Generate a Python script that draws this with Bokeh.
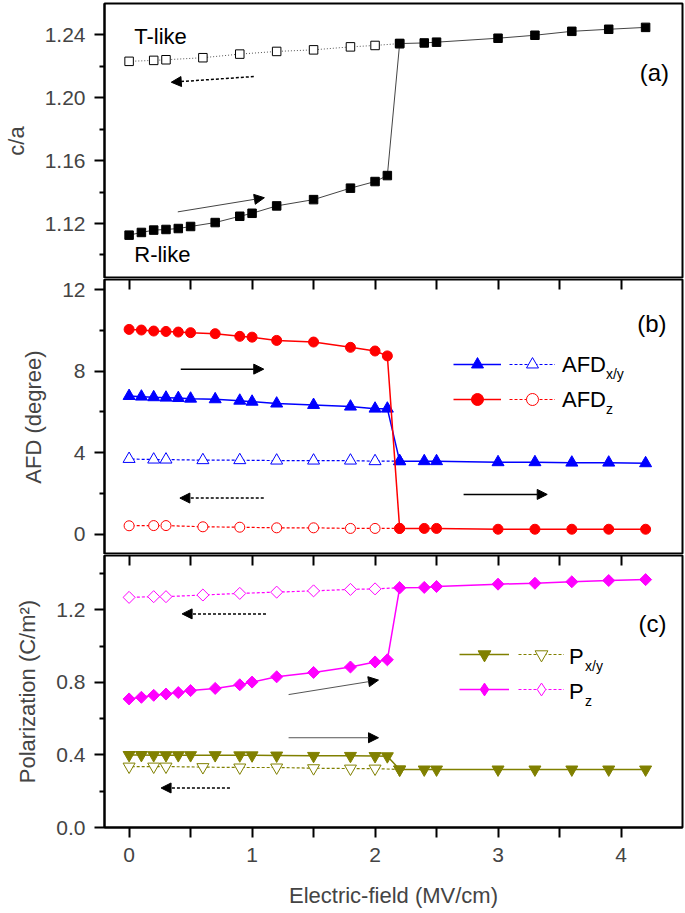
from bokeh.plotting import figure
from bokeh.models import (Range1d, FixedTicker, PrintfTickFormatter, LinearAxis, Label,
                          Arrow, NormalHead, Legend, LegendItem, CustomJSTickFormatter)
from bokeh.layouts import column
from bokeh.embed import file_html
from bokeh.resources import INLINE

# ---------------- data ----------------
E_fwd = [0.0, 0.1, 0.2, 0.3, 0.4, 0.5, 0.7, 0.9, 1.0, 1.2, 1.5, 1.8, 2.0, 2.1,
         2.2, 2.4, 2.5, 3.0, 3.3, 3.6, 3.9, 4.2]
E_bwd = [2.2, 2.0, 1.8, 1.5, 1.2, 0.9, 0.6, 0.3, 0.2, 0.0]

ca_fwd = [1.1126, 1.1143, 1.1158, 1.1162, 1.1168, 1.1181, 1.1206, 1.1246, 1.1265, 1.1312,
          1.1352, 1.1425, 1.1467, 1.1505, 1.2345, 1.2349, 1.2354, 1.2379, 1.2398, 1.2423,
          1.2436, 1.2448]
ca_bwd = [1.2345, 1.2333, 1.2324, 1.2305, 1.2295, 1.2278, 1.2255, 1.2242, 1.2238, 1.2232]

afd_xy_fwd = [6.78, 6.75, 6.72, 6.70, 6.68, 6.65, 6.62, 6.55, 6.50, 6.41, 6.34, 6.26, 6.16,
              6.16, 3.58, 3.58, 3.58, 3.53, 3.53, 3.51, 3.51, 3.48]
afd_z_fwd = [10.05, 10.02, 9.97, 9.95, 9.92, 9.89, 9.84, 9.71, 9.67, 9.51, 9.43, 9.17, 8.99,
             8.75, 0.28, 0.28, 0.28, 0.24, 0.24, 0.24, 0.24, 0.24]
afd_xy_bwd = [3.58, 3.58, 3.61, 3.61, 3.61, 3.63, 3.63, 3.66, 3.66, 3.69]
afd_z_bwd = [0.28, 0.28, 0.28, 0.31, 0.31, 0.34, 0.36, 0.42, 0.42, 0.41]

pz_fwd = [0.709, 0.718, 0.729, 0.736, 0.744, 0.755, 0.767, 0.787, 0.802, 0.831, 0.855, 0.885,
          0.913, 0.925, 1.322, 1.324, 1.329, 1.342, 1.347, 1.355, 1.362, 1.367]
pz_bwd = [1.322, 1.316, 1.313, 1.305, 1.298, 1.291, 1.282, 1.273, 1.273, 1.269]
pxy_fwd = [0.400, 0.400, 0.399, 0.399, 0.399, 0.399, 0.399, 0.398, 0.398, 0.397, 0.395, 0.395,
           0.394, 0.393, 0.320, 0.320, 0.320, 0.320, 0.320, 0.320, 0.320, 0.320]
pxy_bwd = [0.320, 0.325, 0.325, 0.327, 0.331, 0.331, 0.333, 0.336, 0.336, 0.336]

E_ticks = [0, 1, 2, 3, 4]
E_minor = [0.5, 1.5, 2.5, 3.5]
ca_ticks = [1.12, 1.16, 1.20, 1.24]
ca_minor = [1.10, 1.14, 1.18, 1.22]
afd_ticks = [0, 4, 8, 12]
afd_minor = [2, 6, 10]
p_ticks = [0.0, 0.4, 0.8, 1.2]
p_minor = [0.2, 0.6, 1.0, 1.4]

# ---------------- layout constants ----------------
FONT = "Liberation Sans"
WIDTH = 685
LEFT = 101
RIGHT = 3
FW = WIDTH - LEFT - RIGHT
FH = 275
BOTTOM = 80
XR = (-0.2, 4.5)
YR_A = (1.085, 1.26)
YR_B = (-1.0, 12.5)
YR_C = (0.0, 1.5)

BLUE = "#0000ff"
RED = "#ff0000"
MAG = "#ff00ff"
OLIVE = "#808000"
NAN = float("nan")


def to_sx(x):
    return (x - XR[0]) / (XR[1] - XR[0]) * FW


def to_sy(y, yr):
    return (y - yr[0]) / (yr[1] - yr[0]) * FH


def make_panel(yr, height, top, bottom, with_x_below):
    p = figure(width=WIDTH, height=height, x_range=Range1d(*XR), y_range=Range1d(*yr),
               output_backend="svg", toolbar_location=None, title=None,
               min_border_left=LEFT, min_border_right=RIGHT,
               min_border_top=top, min_border_bottom=bottom,
               x_axis_location="below" if with_x_below else None)
    p.grid.visible = False
    p.outline_line_color = "black"
    p.outline_line_width = 2
    p.background_fill_color = "white"
    p.border_fill_color = "white"
    return p


def style_y(p, label, ticks, minors, fmt):
    ax = p.yaxis[0]
    ax.ticker = FixedTicker(ticks=ticks, minor_ticks=minors)
    ax.formatter = PrintfTickFormatter(format=fmt)
    ax.axis_label = label
    ax.axis_label_text_font = FONT
    ax.axis_label_text_font_size = "22px"
    ax.axis_label_text_font_style = "normal"
    ax.axis_label_standoff = 13
    ax.major_label_text_font = FONT
    ax.major_label_text_font_size = "21px"
    ax.major_label_standoff = 9
    ax.major_tick_out = 10
    ax.major_tick_in = 0
    ax.minor_tick_out = 5
    ax.minor_tick_in = 0
    ax.axis_line_width = 2
    ax.major_tick_line_width = 2
    ax.minor_tick_line_width = 2


def add_top_ticks(p):
    ax = LinearAxis(ticker=FixedTicker(ticks=E_ticks, minor_ticks=E_minor),
                    formatter=CustomJSTickFormatter(code="return ''"),
                    major_tick_in=10, major_tick_out=0, minor_tick_in=10, minor_tick_out=0,
                    major_label_standoff=0, major_label_text_font_size="1px",
                    axis_line_color=None, major_tick_line_width=2, minor_tick_line_width=2)
    p.add_layout(ax, "above")


def arrow(p, xs, ys, xe, ye, color="black", dash="solid", width=1.5):
    p.add_layout(Arrow(end=NormalHead(size=10, fill_color="black", line_color="black", line_width=1),
                       x_start=xs, y_start=ys, x_end=xe, y_end=ye,
                       line_color=color, line_width=width, line_dash=dash))


def text(p, x, y, t, size="22px", align="left", xo=0, yo=0):
    p.add_layout(Label(x=x, y=y, text=t, text_font=FONT, text_font_size=size,
                       text_align=align, text_baseline="middle", x_offset=xo, y_offset=yo,
                       text_color="black"))


def legend_pair(p, items_solid, items_dash, x_solid, x_dash, y_bottom, w_solid, w_dash, gh, sp):
    common = dict(orientation="vertical", glyph_height=gh, spacing=sp, padding=0, margin=0,
                  label_standoff=0, label_width=0, label_height=0, label_text_font_size="1px",
                  border_line_color=None, background_fill_alpha=0)
    l1 = Legend(items=[LegendItem(label=" ", renderers=r) for r in items_solid],
                location=(x_solid, y_bottom), glyph_width=w_solid, **common)
    l2 = Legend(items=[LegendItem(label=" ", renderers=r) for r in items_dash],
                location=(x_dash, y_bottom), glyph_width=w_dash, **common)
    p.add_layout(l1)
    p.add_layout(l2)


# ---------------- panel (a) ----------------
pa = make_panel(YR_A, FH + 3, 3, 0, False)
style_y(pa, "c/a", ca_ticks, ca_minor, "%.2f")
pa.line(E_bwd, ca_bwd, line_color="#555555", line_width=1, line_dash="1 2")
pa.scatter(E_bwd, ca_bwd, marker="square", size=8.5, fill_color="white", line_color="black",
           line_width=1)
pa.line(E_fwd, ca_fwd, line_color="#444444", line_width=1)
pa.scatter(E_fwd, ca_fwd, marker="square", size=8.5, fill_color="black", line_color="black")
arrow(pa, 0.396, 1.1274, 1.10, 1.1364, color="#444444", width=1)
arrow(pa, 1.014, 1.2135, 0.343, 1.2099, dash="3 2", width=1.5)
text(pa, 0.042, 1.239, "T-like")
text(pa, 0.042, 1.100, "R-like")
text(pa, 4.39, 1.2158, "(a)", size="24px", align="right")

# ---------------- panel (b) ----------------
pb = make_panel(YR_B, FH + 1, 1, 0, False)
style_y(pb, "AFD (degree)", afd_ticks, afd_minor, "%d")
add_top_ticks(pb)
xyb_l = pb.line(E_bwd, afd_xy_bwd, line_color=BLUE, line_width=1.2, line_dash="3 2")
xyb_s = pb.scatter(E_bwd, afd_xy_bwd, marker="triangle", size=12, fill_color="white",
                   line_color=BLUE, line_width=1)
zb_l = pb.line(E_bwd, afd_z_bwd, line_color=RED, line_width=1.2, line_dash="3 2")
zb_s = pb.scatter(E_bwd, afd_z_bwd, marker="circle", size=10, fill_color="white",
                  line_color=RED, line_width=1)
xyf_l = pb.line(E_fwd, afd_xy_fwd, line_color=BLUE, line_width=1.5)
xyf_s = pb.scatter(E_fwd, afd_xy_fwd, marker="triangle", size=12, fill_color=BLUE,
                   line_color=BLUE)
zf_l = pb.line(E_fwd, afd_z_fwd, line_color=RED, line_width=1.5)
zf_s = pb.scatter(E_fwd, afd_z_fwd, marker="circle", size=10, fill_color=RED, line_color=RED)
arrow(pb, 0.42, 8.10, 1.095, 8.10)
arrow(pb, 1.095, 1.77, 0.413, 1.77, dash="3 2")
arrow(pb, 2.72, 1.95, 3.40, 1.95)
text(pb, 4.37, 10.33, "(b)", size="24px", align="right")
legend_pair(pb, [[xyf_l, xyf_s], [zf_l, zf_s]], [[xyb_l, xyb_s], [zb_l, zb_s]],
            to_sx(2.62), to_sx(3.08), to_sy(6.62, YR_B) - 15, 48, 46, 30, 5)
text(pb, 3.52, 8.33, "AFD")
text(pb, 3.52, 8.33, "x/y", size="14px", xo=44, yo=-10)
text(pb, 3.52, 6.62, "AFD")
text(pb, 3.52, 6.62, "z", size="14px", xo=44, yo=-10)

# ---------------- panel (c) ----------------
pc = make_panel(YR_C, FH + 1 + BOTTOM, 1, BOTTOM, True)
style_y(pc, "Polarization (C/m²)", p_ticks, p_minor, "%.1f")
xa = pc.below[0]
xa.ticker = FixedTicker(ticks=E_ticks, minor_ticks=E_minor)
xa.axis_label = "Electric-field (MV/cm)"
xa.axis_label_text_font = FONT
xa.axis_label_text_font_size = "22px"
xa.axis_label_text_font_style = "normal"
xa.axis_label_standoff = 18
xa.major_label_text_font = FONT
xa.major_label_text_font_size = "21px"
xa.major_label_standoff = 10
xa.major_tick_out = 10
xa.major_tick_in = 0
xa.minor_tick_out = 10
xa.minor_tick_in = 0
xa.axis_line_width = 2
xa.major_tick_line_width = 2
xa.minor_tick_line_width = 2
add_top_ticks(pc)

pzb_l = pc.line(E_bwd, pz_bwd, line_color=MAG, line_width=1.2, line_dash="3 2")
pc.scatter(E_bwd, pz_bwd, marker="square", angle=0.7854, size=8.5, fill_color="white",
           line_color=MAG, line_width=1)
pxyb_l = pc.line(E_bwd, pxy_bwd, line_color=OLIVE, line_width=1.2, line_dash="3 2")
pxyb_s = pc.scatter(E_bwd, pxy_bwd, marker="inverted_triangle", size=12, fill_color="white",
                    line_color=OLIVE, line_width=1)
pzf_l = pc.line(E_fwd, pz_fwd, line_color=MAG, line_width=1.5)
pc.scatter(E_fwd, pz_fwd, marker="square", angle=0.7854, size=8.5, fill_color=MAG,
           line_color=MAG)
pxyf_l = pc.line(E_fwd, pxy_fwd, line_color=OLIVE, line_width=1.5)
pxyf_s = pc.scatter(E_fwd, pxy_fwd, marker="inverted_triangle", size=12, fill_color=OLIVE,
                    line_color=OLIVE)
# legend-only glyphs (diamond shape for the legend samples; NaN point draws nothing)
pzf_leg = pc.scatter(x=[NAN], y=[NAN], marker="diamond", fill_color=MAG, line_color=MAG)
pzb_leg = pc.scatter(x=[NAN], y=[NAN], marker="diamond", fill_color="white", line_color=MAG,
                     line_width=1)

arrow(pc, 1.113, 1.178, 0.431, 1.178, dash="3 2")
arrow(pc, 1.297, 0.733, 2.028, 0.813, color="#555555", width=1)
arrow(pc, 1.297, 0.495, 2.028, 0.495, color="#555555", width=1)
arrow(pc, 0.82, 0.218, 0.26, 0.218, dash="3 2")
text(pc, 4.37, 1.127, "(c)", size="24px", align="right")
legend_pair(pc, [[pxyf_l, pxyf_s], [pzf_l, pzf_leg]], [[pxyb_l, pxyb_s], [pzb_l, pzb_leg]],
            to_sx(2.673), to_sx(3.15), to_sy(0.751, YR_C) - 16, 50, 46, 32, 3)
text(pc, 3.577, 0.945, "P")
text(pc, 3.577, 0.945, "x/y", size="14px", xo=16, yo=-10)
text(pc, 3.577, 0.751, "P")
text(pc, 3.577, 0.751, "z", size="14px", xo=16, yo=-10)

layout = column(pa, pb, pc, spacing=0)
open("out.html", "w").write(file_html(layout, INLINE))
